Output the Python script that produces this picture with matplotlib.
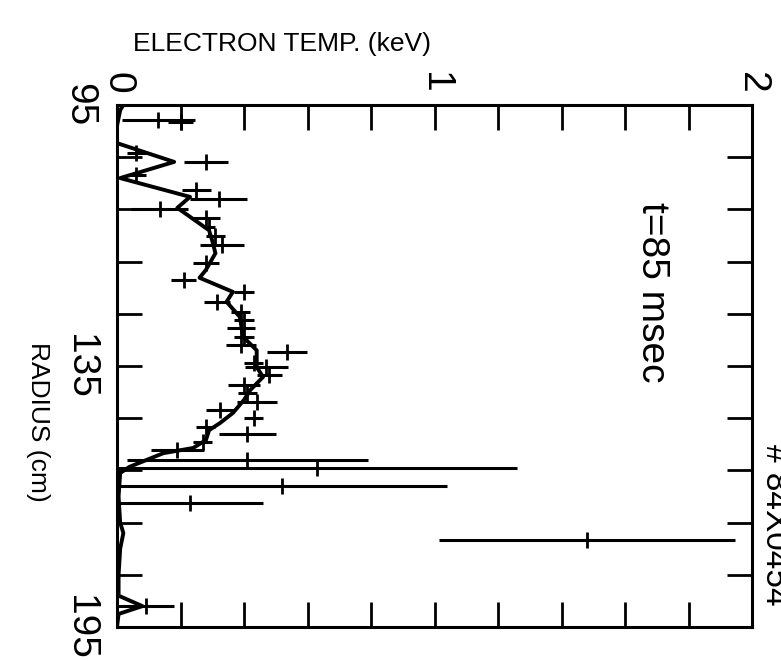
import numpy as np
import matplotlib
matplotlib.use("Agg")
from matplotlib import pyplot as plt

# Thomson scattering points: radius (cm), Te (keV), half width of the error bar (keV)
radius_pts = [97.9, 98.2, 104.2, 108.4, 105.9, 111.3, 113.0, 114.9, 116.6, 118.4,
              120.0, 121.8, 125.3, 128.5, 130.8, 132.7, 134.7, 136.2, 137.8, 139.4,
              141.0, 142.3, 144.4, 145.2, 146.7, 148.6, 150.2, 151.9, 153.4, 155.0,
              156.7, 158.0, 159.5, 161.1, 163.0, 164.5, 168.0, 171.3, 178.3, 191.0]
temp_pts = [0.13, 0.20, 0.06, 0.06, 0.28, 0.25, 0.32, 0.135, 0.28, 0.29,
            0.31, 0.33, 0.28, 0.21, 0.40, 0.315, 0.39, 0.40, 0.39, 0.40,
            0.39, 0.535, 0.43, 0.47, 0.48, 0.40, 0.41, 0.44, 0.325, 0.43,
            0.28, 0.41, 0.27, 0.19, 0.41, 0.63, 0.52, 0.23, 1.48, 0.09]
temp_err = [0.115, 0.04, 0.03, 0.03, 0.07, 0.045, 0.09, 0.09, 0.045, 0.02,
            0.03, 0.07, 0.04, 0.04, 0.03, 0.04, 0.03, 0.03, 0.045, 0.03,
            0.047, 0.063, 0.03, 0.068, 0.04, 0.05, 0.03, 0.063, 0.045, 0.03,
            0.03, 0.09, 0.03, 0.084, 0.38, 0.63, 0.52, 0.23, 0.465, 0.09]

# smoothed profile
fit_radius = [95, 96, 99, 102.3, 105.9, 109, 112.6, 114.7, 119, 121,
              123.4, 126.6, 128.1, 130.8, 132.7, 135.6, 139.4, 142, 144.4, 145.2,
              147.1, 149.6, 151.5, 154, 155.9, 157.3, 159.2, 160.7, 161.7, 164.3,
              165.5, 170, 175, 177, 180, 185, 189, 191, 192.5, 195]
fit_temp = [0.02, 0.01, 0.0, 0.0, 0.18, 0.01, 0.23, 0.19, 0.29, 0.30,
            0.31, 0.28, 0.26, 0.365, 0.345, 0.387, 0.397, 0.44, 0.44, 0.44,
            0.46, 0.42, 0.40, 0.365, 0.325, 0.29, 0.28, 0.24, 0.146, 0.04,
            0.01, 0.005, 0.01, 0.02, 0.01, 0.005, 0.005, 0.08, 0.005, 0.0]

temp_ticks = np.arange(0, 2.01, 0.2)
temp_labels = ["0", "", "", "", "", "1", "", "", "", "", "2"]
radius_ticks = np.arange(95, 196, 10)
radius_labels = ["95", "", "", "", "", "135", "", "", "", "", "195"]

narrow = ["Liberation Sans Narrow", "Liberation Sans", "DejaVu Sans"]
plain = ["Liberation Sans", "DejaVu Sans"]

fig = plt.figure(figsize=(7.81, 6.61), dpi=100)
ax = fig.add_axes([117 / 781, 1 - 627 / 661, (752 - 117) / 781, (627 - 105) / 661])

ax.plot(fit_temp, fit_radius, color="black", lw=2.8, solid_joinstyle="round")
ax.errorbar(temp_pts, radius_pts, xerr=temp_err, fmt="|", color="black",
            ms=11, mew=2.0, elinewidth=2.2, capsize=0)

ax.set_xlim(0, 2)
ax.set_ylim(195, 95)
ax.set_xticks(temp_ticks)
ax.set_xticklabels(temp_labels, rotation=-90, family=plain, fontsize=28)
ax.set_yticks(radius_ticks)
ax.set_yticklabels(radius_labels, rotation=-90, family=plain, fontsize=28,
                   va="center")
ax.tick_params(axis="x", direction="in", length=18, width=2, top=True, bottom=True,
               labeltop=True, labelbottom=False, pad=8)
ax.tick_params(axis="y", direction="in", length=18, width=2, left=True, right=True,
               pad=14)
for sp in ax.spines.values():
    sp.set_linewidth(2.2)

fig.text(282 / 781, 1 - 44 / 661, "ELECTRON TEMP. (keV)", family=narrow,
         fontsize=19, ha="center", va="center")
fig.text(38 / 781, 1 - 422 / 661, "RADIUS (cm)", family=narrow, fontsize=19,
         rotation=-90, ha="center", va="center")
fig.text(652 / 781, 1 - 292 / 661, "t=85 msec", family=narrow, fontsize=28,
         rotation=-90, ha="center", va="center")
fig.text(774 / 781, 1 - 525 / 661, "# 84X0454", family=narrow, fontsize=24,
         rotation=-90, ha="center", va="center")

fig.savefig("out.png", dpi=100)
